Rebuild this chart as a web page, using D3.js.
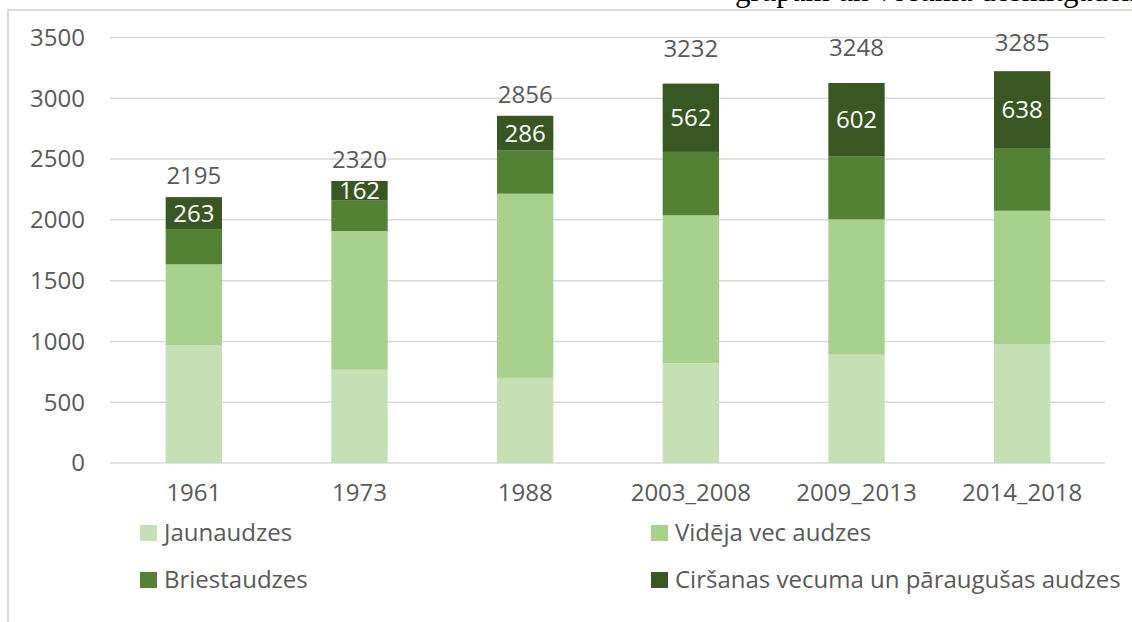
<!DOCTYPE html>
<html>
<head>
<meta charset="utf-8">
<script src="https://cdn.jsdelivr.net/npm/d3@7"></script>
<style>
  html, body { margin: 0; padding: 0; background: #ffffff; }
</style>
</head>
<body>
<script>
const periods = ['1961', '1973', '1988', '2003_2008', '2009_2013', '2014_2018'];
const jaunaudzes = [970, 767, 700, 820, 891, 979];
const videjaVec = [664, 1141, 1515, 1217, 1113, 1096];
const briestaudzes = [290, 250, 355, 522, 520, 510];
const cirsanas = [263, 162, 286, 562, 602, 638];
const totals = [2195, 2320, 2856, 3232, 3248, 3285];
const seriesNames = ['Jaunaudzes', 'Vidēja vec audzes', 'Briestaudzes', 'Ciršanas vecuma un pāraugušas audzes'];
const yTicks = [0, 500, 1000, 1500, 2000, 2500, 3000, 3500];

document.addEventListener('DOMContentLoaded', () => {
  const width = 1132;
  const height = 622;
  const colors = ['#c5e0b4', '#a9d18e', '#548235', '#385723'];
  const font = '"Open Sans", sans-serif';
  const fontSize = 24;
  const textColor = '#595959';

  const svg = d3.select('body')
    .append('svg')
      .attr('width', width)
      .attr('height', height);

  // caption of the page, mostly cut off at the top
  svg.append('text')
    .text('grupām un vecuma desmitgadēm')
    .attr('x', 735)
    .attr('y', 1)
    .attr('font-family', '"Liberation Serif", serif')
    .attr('font-size', 31)
    .attr('fill', '#000000');

  // chart frame
  svg.append('path')
    .attr('d', `M8,${height + 2} L8,10 L${width + 2},10`)
    .attr('fill', 'none')
    .attr('stroke', '#d9d9d9')
    .attr('stroke-width', 2);

  const x = d3.scaleBand()
    .domain(periods)
    .range([111, 1105])
    .paddingInner(0.66)
    .paddingOuter(0.33);

  const y = d3.scaleLinear()
    .domain([0, 3500])
    .range([463, 37.5]);

  // gridlines
  svg.append('g')
    .selectAll('line')
    .data(yTicks)
    .enter()
    .append('line')
      .attr('x1', 110)
      .attr('x2', 1105)
      .attr('y1', d => y(d))
      .attr('y2', d => y(d))
      .attr('stroke', '#d9d9d9')
      .attr('stroke-width', 1.5);

  svg.append('g')
    .selectAll('text')
    .data(yTicks)
    .enter()
    .append('text')
      .text(d => d)
      .attr('x', 85)
      .attr('y', d => y(d))
      .attr('dy', '0.35em')
      .attr('text-anchor', 'end')
      .attr('font-family', font)
      .attr('font-size', fontSize)
      .attr('fill', textColor);

  const table = periods.map((p, i) => ({
    period: p,
    j: jaunaudzes[i],
    v: videjaVec[i],
    b: briestaudzes[i],
    c: cirsanas[i]
  }));
  const layers = d3.stack().keys(['j', 'v', 'b', 'c'])(table);

  svg.append('g')
    .selectAll('g')
    .data(layers)
    .enter()
    .append('g')
      .attr('fill', (d, i) => colors[i])
    .selectAll('rect')
    .data(d => d)
    .enter()
    .append('rect')
      .attr('x', d => x(d.data.period))
      .attr('y', d => y(d[1]))
      .attr('width', x.bandwidth())
      .attr('height', d => y(d[0]) - y(d[1]));

  // values inside the top segment
  svg.append('g')
    .selectAll('text')
    .data(layers[3])
    .enter()
    .append('text')
      .text(d => d.data.c)
      .attr('x', d => x(d.data.period) + x.bandwidth() / 2)
      .attr('y', d => (y(d[0]) + y(d[1])) / 2)
      .attr('dy', '0.35em')
      .attr('text-anchor', 'middle')
      .attr('font-family', font)
      .attr('font-size', fontSize)
      .attr('fill', '#ffffff');

  // totals above the bars
  svg.append('g')
    .selectAll('text')
    .data(totals)
    .enter()
    .append('text')
      .text(d => d)
      .attr('x', (d, i) => x(periods[i]) + x.bandwidth() / 2)
      .attr('y', d => y(d) - 21)
      .attr('dy', '0.35em')
      .attr('text-anchor', 'middle')
      .attr('font-family', font)
      .attr('font-size', fontSize)
      .attr('fill', textColor);

  // category labels
  svg.append('g')
    .selectAll('text')
    .data(periods)
    .enter()
    .append('text')
      .text(d => d)
      .attr('x', d => x(d) + x.bandwidth() / 2)
      .attr('y', 493)
      .attr('dy', '0.35em')
      .attr('text-anchor', 'middle')
      .attr('font-family', font)
      .attr('font-size', fontSize)
      .attr('fill', textColor);

  // legend, two columns
  const legend = svg.append('g')
    .selectAll('g')
    .data(seriesNames)
    .enter()
    .append('g')
      .attr('transform', (d, i) => `translate(${i % 2 === 0 ? 140 : 651},${i < 2 ? 533 : 580})`);

  legend.append('rect')
    .attr('x', 0)
    .attr('y', -8)
    .attr('width', 17)
    .attr('height', 16)
    .attr('fill', (d, i) => colors[i]);

  legend.append('text')
    .text(d => d)
    .attr('x', 24)
    .attr('y', 0)
    .attr('dy', '0.35em')
    .attr('font-family', font)
    .attr('font-size', fontSize)
    .attr('fill', textColor);
});
</script>
</body>
</html>
